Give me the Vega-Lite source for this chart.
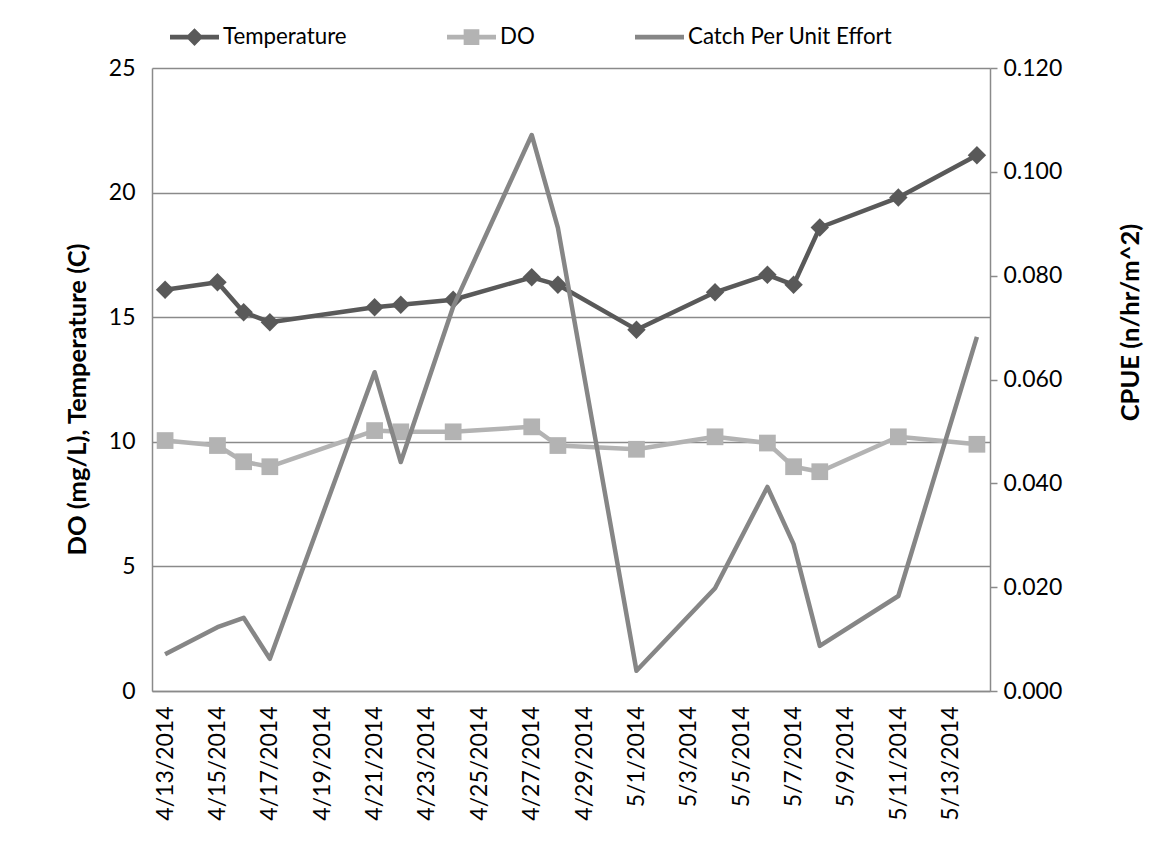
{
  "$schema": "https://vega.github.io/schema/vega-lite/v6.json",
  "width": 838,
  "height": 623,
  "autosize": {"type": "none"},
  "padding": {"left": 152, "top": 68, "right": 174, "bottom": 151},
  "background": "white",
  "config": {
    "font": "Lato",
    "view": {"stroke": null},
    "axis": {
      "labelFont": "Lato",
      "labelFontSize": 23,
      "labelColor": "#000000",
      "titleFont": "Lato",
      "titleFontSize": 25.5,
      "titleFontWeight": "bold",
      "titleColor": "#000000",
      "domainColor": "#8a8a8a",
      "domainWidth": 1.5,
      "tickColor": "#8a8a8a",
      "tickWidth": 1.5,
      "gridColor": "#8a8a8a",
      "gridWidth": 1.5,
      "gridOpacity": 1
    },
    "legend": {
      "orient": "none",
      "legendX": 18,
      "legendY": -55.5,
      "direction": "horizontal",
      "padding": 0,
      "symbolSize": 2401,
      "symbolStrokeWidth": 0,
      "symbolOpacity": 1,
      "labelFont": "Lato",
      "labelFontSize": 22.3,
      "labelColor": "#000000",
      "labelOffset": 4,
      "labelLimit": 400,
      "gridAlign": "each",
      "columnPadding": 100
    }
  },
  "data": {
    "values": [
      {"date": "2014-04-13", "series": "Temperature", "value": 16.1},
      {"date": "2014-04-15", "series": "Temperature", "value": 16.4},
      {"date": "2014-04-16", "series": "Temperature", "value": 15.2},
      {"date": "2014-04-17", "series": "Temperature", "value": 14.8},
      {"date": "2014-04-21", "series": "Temperature", "value": 15.4},
      {"date": "2014-04-22", "series": "Temperature", "value": 15.5},
      {"date": "2014-04-24", "series": "Temperature", "value": 15.7},
      {"date": "2014-04-27", "series": "Temperature", "value": 16.6},
      {"date": "2014-04-28", "series": "Temperature", "value": 16.3},
      {"date": "2014-05-01", "series": "Temperature", "value": 14.5},
      {"date": "2014-05-04", "series": "Temperature", "value": 16.0},
      {"date": "2014-05-06", "series": "Temperature", "value": 16.7},
      {"date": "2014-05-07", "series": "Temperature", "value": 16.3},
      {"date": "2014-05-08", "series": "Temperature", "value": 18.6},
      {"date": "2014-05-11", "series": "Temperature", "value": 19.8},
      {"date": "2014-05-14", "series": "Temperature", "value": 21.5},
      {"date": "2014-04-13", "series": "DO", "value": 10.05},
      {"date": "2014-04-15", "series": "DO", "value": 9.85},
      {"date": "2014-04-16", "series": "DO", "value": 9.2},
      {"date": "2014-04-17", "series": "DO", "value": 9.0},
      {"date": "2014-04-21", "series": "DO", "value": 10.45},
      {"date": "2014-04-22", "series": "DO", "value": 10.4},
      {"date": "2014-04-24", "series": "DO", "value": 10.4},
      {"date": "2014-04-27", "series": "DO", "value": 10.6},
      {"date": "2014-04-28", "series": "DO", "value": 9.85},
      {"date": "2014-05-01", "series": "DO", "value": 9.7},
      {"date": "2014-05-04", "series": "DO", "value": 10.2},
      {"date": "2014-05-06", "series": "DO", "value": 9.95},
      {"date": "2014-05-07", "series": "DO", "value": 9.0},
      {"date": "2014-05-08", "series": "DO", "value": 8.8},
      {"date": "2014-05-11", "series": "DO", "value": 10.2},
      {"date": "2014-05-14", "series": "DO", "value": 9.9},
      {"date": "2014-04-13", "series": "Catch Per Unit Effort", "value": 0.0071},
      {"date": "2014-04-15", "series": "Catch Per Unit Effort", "value": 0.0123},
      {"date": "2014-04-16", "series": "Catch Per Unit Effort", "value": 0.0141},
      {"date": "2014-04-17", "series": "Catch Per Unit Effort", "value": 0.0062},
      {"date": "2014-04-21", "series": "Catch Per Unit Effort", "value": 0.0614},
      {"date": "2014-04-22", "series": "Catch Per Unit Effort", "value": 0.0441},
      {"date": "2014-04-24", "series": "Catch Per Unit Effort", "value": 0.074},
      {"date": "2014-04-27", "series": "Catch Per Unit Effort", "value": 0.1071},
      {"date": "2014-04-28", "series": "Catch Per Unit Effort", "value": 0.0892},
      {"date": "2014-05-01", "series": "Catch Per Unit Effort", "value": 0.0039},
      {"date": "2014-05-04", "series": "Catch Per Unit Effort", "value": 0.0198},
      {"date": "2014-05-06", "series": "Catch Per Unit Effort", "value": 0.0393},
      {"date": "2014-05-07", "series": "Catch Per Unit Effort", "value": 0.0283},
      {"date": "2014-05-08", "series": "Catch Per Unit Effort", "value": 0.0087},
      {"date": "2014-05-11", "series": "Catch Per Unit Effort", "value": 0.0183},
      {"date": "2014-05-14", "series": "Catch Per Unit Effort", "value": 0.0682}
    ]
  },
  "encoding": {
    "x": {
      "field": "date",
      "type": "temporal",
      "scale": {
        "type": "utc",
        "domain": [
          {"year": 2014, "month": 4, "date": 12, "hours": 12, "utc": true},
          {"year": 2014, "month": 5, "date": 14, "hours": 12, "utc": true}
        ]
      },
      "axis": {
        "values": [
          {"year": 2014, "month": 4, "date": 13, "utc": true},
          {"year": 2014, "month": 4, "date": 15, "utc": true},
          {"year": 2014, "month": 4, "date": 17, "utc": true},
          {"year": 2014, "month": 4, "date": 19, "utc": true},
          {"year": 2014, "month": 4, "date": 21, "utc": true},
          {"year": 2014, "month": 4, "date": 23, "utc": true},
          {"year": 2014, "month": 4, "date": 25, "utc": true},
          {"year": 2014, "month": 4, "date": 27, "utc": true},
          {"year": 2014, "month": 4, "date": 29, "utc": true},
          {"year": 2014, "month": 5, "date": 1, "utc": true},
          {"year": 2014, "month": 5, "date": 3, "utc": true},
          {"year": 2014, "month": 5, "date": 5, "utc": true},
          {"year": 2014, "month": 5, "date": 7, "utc": true},
          {"year": 2014, "month": 5, "date": 9, "utc": true},
          {"year": 2014, "month": 5, "date": 11, "utc": true},
          {"year": 2014, "month": 5, "date": 13, "utc": true}
        ],
        "format": "%-m/%-d/%Y",
        "labelAngle": -90,
        "labelPadding": 15,
        "labelOverlap": false,
        "labelBound": false,
        "labelFlush": false,
        "ticks": false,
        "grid": false,
        "title": null
      }
    }
  },
  "layer": [
    {
      "encoding": {
        "y": {
          "field": "value",
          "type": "quantitative",
          "scale": {"domain": [0, 25], "nice": false, "zero": true},
          "axis": {
            "values": [0, 5, 10, 15, 20, 25],
            "grid": true,
            "ticks": false,
            "labelPadding": 17,
            "title": "DO (mg/L), Temperature (C)",
            "titleAngle": -90,
            "titleX": -75,
            "titleY": 331,
            "titleAlign": "center",
            "titleBaseline": "middle"
          }
        }
      },
      "layer": [
        {
          "transform": [{"filter": "datum.series === 'Temperature'"}],
          "mark": {"type": "line", "color": "#595959", "strokeWidth": 4.5, "strokeJoin": "round"}
        },
        {
          "transform": [{"filter": "datum.series === 'DO'"}],
          "mark": {"type": "line", "color": "#b3b3b3", "strokeWidth": 4.5, "strokeJoin": "round"}
        },
        {
          "transform": [{"filter": "datum.series === 'Temperature'"}],
          "mark": {"type": "point", "shape": "diamond", "filled": true, "color": "#595959", "size": 340, "opacity": 1}
        },
        {
          "transform": [{"filter": "datum.series === 'DO'"}],
          "mark": {"type": "point", "shape": "square", "filled": true, "color": "#b3b3b3", "size": 280, "opacity": 1}
        },
        {
          "transform": [{"filter": "false"}],
          "mark": {"type": "point", "filled": true, "opacity": 1, "strokeWidth": 0},
          "encoding": {
            "color": {
              "field": "series",
              "type": "nominal",
              "scale": {
                "domain": ["Temperature", "DO", "Catch Per Unit Effort"],
                "range": ["#595959", "#b3b3b3", "#868686"]
              },
              "legend": {"title": null}
            },
            "shape": {
              "field": "series",
              "type": "nominal",
              "scale": {
                "domain": ["Temperature", "DO", "Catch Per Unit Effort"],
                "range": [
                  "M-1,-0.1L1,-0.1L1,0.1L-1,0.1Z M0,-0.36L0.36,0L0,0.36L-0.36,0Z",
                  "M-1,-0.1L1,-0.1L1,0.1L-1,0.1Z M-0.32,-0.32L0.32,-0.32L0.32,0.32L-0.32,0.32Z",
                  "M-1,-0.1L1,-0.1L1,0.1L-1,0.1Z"
                ]
              },
              "legend": {"title": null}
            }
          }
        }
      ]
    },
    {
      "transform": [{"filter": "datum.series === 'Catch Per Unit Effort'"}],
      "mark": {"type": "line", "color": "#868686", "strokeWidth": 4.5, "strokeJoin": "round"},
      "encoding": {
        "y": {
          "field": "value",
          "type": "quantitative",
          "scale": {"domain": [0, 0.12], "nice": false},
          "axis": {
            "orient": "right",
            "values": [0, 0.02, 0.04, 0.06, 0.08, 0.1, 0.12],
            "format": ".3f",
            "grid": false,
            "ticks": true,
            "tickSize": 7,
            "labelPadding": 6,
            "title": "CPUE (n/hr/m^2)",
            "titleAngle": -90,
            "titleX": 140,
            "titleY": 254,
            "titleAlign": "center",
            "titleBaseline": "middle"
          }
        }
      }
    }
  ],
  "resolve": {"scale": {"y": "independent"}}
}
